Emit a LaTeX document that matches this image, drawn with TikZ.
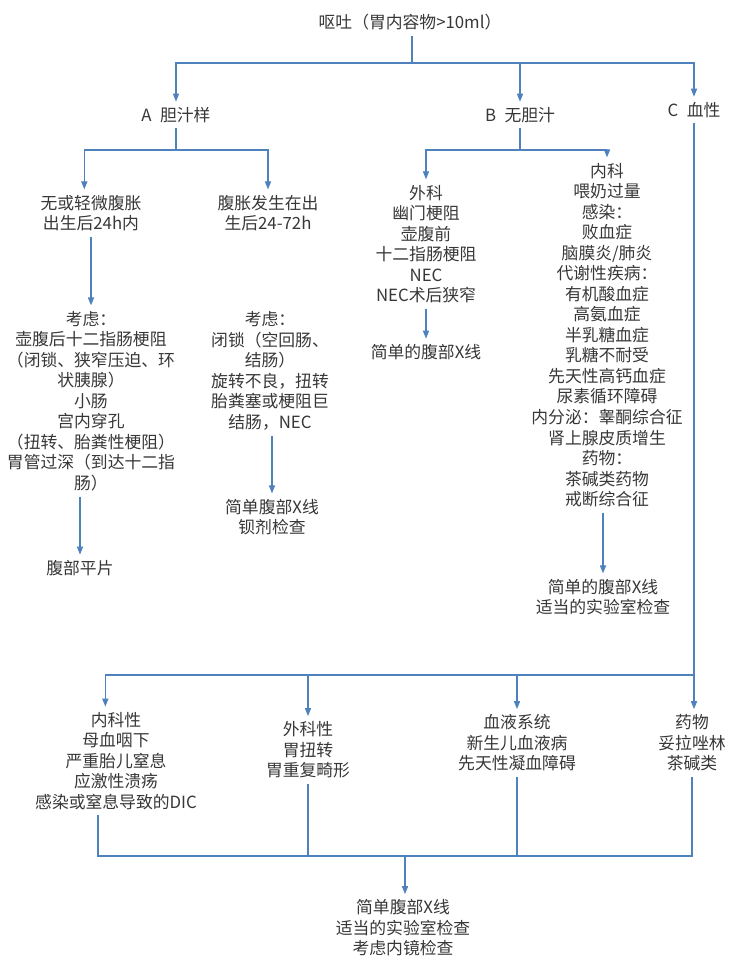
\documentclass[tikz,border=0pt]{standalone}
\usepackage{fontspec}
\setmainfont{Noto Sans CJK SC}
\usepackage{xcolor}
\usetikzlibrary{arrows.meta, positioning, calc}
\definecolor{flowblue}{RGB}{79,129,189}
\definecolor{flowtext}{RGB}{55,55,55}
\tikzset{
  tbox/.style={
    align=center, text=flowtext, inner sep=4pt,
    font=\fontsize{12.6}{15.4}\selectfont
  },
  ln/.style={flowblue, line width=0.9pt},
  arr/.style={
    -{Triangle[length=6pt,width=4.6pt]},
    flowblue, line width=0.9pt
  },
}

\begin{document}
\begin{tikzpicture}[x=0.75pt, y=-0.75pt]
  \useasboundingbox (0,0) rectangle (747,960);
  % top level
  \node[tbox] (title) at (410,22) {呕吐（胃内容物>10ml）};
  \node[tbox] (nA) at (176,115) {A\enspace 胆汁样};
  \node[tbox] (nB) at (520,115) {B\enspace 无胆汁};
  \node[tbox] (nC) at (694,110) {C\enspace 血性};
  % A branch
  \node[tbox] (nA1) at (91,213) {无或轻微腹胀\\出生后24h内};
  \node[tbox] (nA2) at (268,213) {腹胀发生在出\\生后24-72h};
  \node[tbox] (nA1c) at (91,401)
    {考虑：\\壶腹后十二指肠梗阻\\（闭锁、狭窄压迫、环\\状胰腺）\\小肠\\宫内穿孔\\
     （扭转、胎粪性梗阻）\\胃管过深（到达十二指\\肠）};
  \node[tbox] (nA2c) at (270,371)
    {考虑：\\闭锁（空回肠、\\结肠）\\旋转不良，扭转\\胎粪塞或梗阻巨\\结肠，NEC};
  \node[tbox] (nA1x) at (80,568) {腹部平片};
  \node[tbox] (nA2x) at (272,517) {简单腹部X线\\钡剂检查};
  % B branch
  \node[tbox] (nB1) at (426,244)
    {外科\\幽门梗阻\\壶腹前\\十二指肠梗阻\\NEC\\NEC术后狭窄};
  \node[tbox] (nB1x) at (426,352) {简单的腹部X线};
  \node[tbox] (nB2) at (607,335)
    {内科\\喂奶过量\\感染：\\败血症\\脑膜炎/肺炎\\代谢性疾病：\\有机酸血症\\高氨血症\\
     半乳糖血症\\乳糖不耐受\\先天性高钙血症\\尿素循环障碍\\内分泌：睾酮综合征\\
     肾上腺皮质增生\\药物：\\茶碱类药物\\戒断综合征};
  \node[tbox] (nB2x) at (603,597) {简单的腹部X线\\适当的实验室检查};
  % C branch
  \node[tbox] (nC1) at (116,761)
    {内科性\\母血咽下\\严重胎儿窒息\\应激性溃疡\\感染或窒息导致的DIC};
  \node[tbox] (nC2) at (308,750) {外科性\\胃扭转\\胃重复畸形};
  \node[tbox] (nC3) at (517,743) {血液系统\\新生儿血液病\\先天性凝血障碍};
  \node[tbox] (nC4) at (692,743) {药物\\妥拉唑林\\茶碱类};
  \node[tbox] (nEnd) at (403,928) {简单腹部X线\\适当的实验室检查\\考虑内镜检查};

  \coordinate (j0) at (412,63);
  \coordinate (jA) at (176,150);
  \coordinate (jB) at (520,150);
  \coordinate (jC) at (694,675);
  \coordinate (jD) at (405,856);

  \draw[arr] (title.south -| j0) -- (j0) -| (nA);
  \draw[arr] (j0) -| (nB);
  \draw[arr] (j0) -| (nC);

  \draw[arr] (nA) -- (jA) -| ([xshift=-5pt]nA1.north);
  \draw[arr] (jA) -| (nA2);
  \draw[arr] (nA1) -- (nA1c);
  \draw[arr] (nA2c.south -| nA2x) -- (nA2x);
  \draw[arr] (nA1c.south -| nA1x) -- (nA1x);

  \draw[arr] (nB) -- (jB) -| (nB1);
  \draw[arr] (jB) -| (nB2);
  \draw[arr] (nB1) -- (nB1x);
  \draw[arr] (nB2.south -| nB2x) -- (nB2x);

  \draw[arr] (nC) -- (jC) -| ([xshift=-8pt]nC1.north);
  \draw[arr] (jC) -| (nC2);
  \draw[arr] (jC) -| (nC3);
  \draw[arr] (jC) -- (jC |- nC4.north);

  \draw[ln] ([xshift=-13.5pt]nC1.south) |- (jD);
  \foreach \n in {nC2,nC3,nC4}
    \draw[ln] (\n.south) |- (jD);
  \draw[arr] (jD) -- (jD |- nEnd.north);
\end{tikzpicture}
\end{document}
